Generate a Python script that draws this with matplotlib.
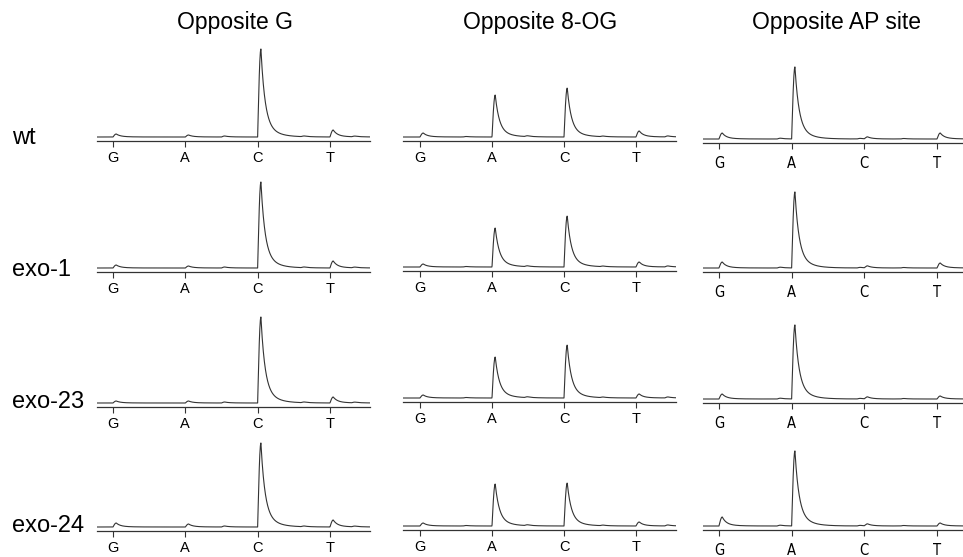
import numpy as np
import matplotlib.pyplot as plt

plt.rcParams['font.family'] = ['Liberation Sans', 'DejaVu Sans']

bases = ["G", "A", "C", "T"]
col_titles = ["Opposite G", "Opposite 8-OG", "Opposite AP site"]
row_labels = ["wt", "exo-1", "exo-23", "exo-24"]

# peak heights (signal above baseline) at the G, A, C, T positions
opp_g = [[3, 2, 88, 7], [3, 2, 86, 7], [2, 2, 86, 6], [4, 3, 84, 7]]
opp_8og = [[4, 42, 49, 6], [3, 39, 51, 5], [3, 41, 53, 4], [3, 42, 43, 4]]
opp_ap = [[6, 72, 2, 6], [6, 76, 2, 5], [5, 74, 2, 3], [9, 75, 2, 3]]
panels = [opp_g, opp_8og, opp_ap]

# small side bumps between base positions: (position, height)
minor = [[(1.5, 1), (2.6, 0.7), (3.3, 0.7)],
         [(0.6, 0.5), (1.45, 0.8), (2.5, 0.6), (3.4, 1)],
         [(0.8, 0.8), (1.9, 0.6), (2.5, 0.5)]]


def trace(x, heights, bumps, base=4.0):
    y = np.full_like(x, base)
    pts = [(i, h) for i, h in enumerate(heights)] + list(bumps)
    for x0, h in pts:
        u = x - x0
        rise = 0.045
        up = (u >= 0) & (u < rise)
        dn = u >= rise
        y[up] += h * np.sin(0.5 * np.pi * u[up] / rise)
        y[dn] += h * (0.8 * np.exp(-(u[dn] - rise) / 0.055) + 0.2 * np.exp(-(u[dn] - rise) / 0.15))
    return y


W, H = 963, 557
fig = plt.figure(figsize=(W / 100, H / 100), dpi=100)

# panel layout in pixels: left edge, right edge, G tick, T tick
cols = [(97, 370, 113, 330), (403, 676, 420, 636), (703, 963, 719, 937)]
bottoms = [[141, 272, 407, 531], [141, 271, 402, 530], [143, 272, 403, 530]]
title_x = [235, 540, 836]
label_y = [138, 270, 402, 526]
ax_h = 100

for c, (L, R, g, t) in enumerate(cols):
    s = (t - g) / 3
    xlim = (-(g - L) / s, 3 + (R - t) / s)
    x = np.linspace(xlim[0], xlim[1], 1500)
    for r in range(4):
        b = bottoms[c][r]
        ax = fig.add_axes([L / W, (H - b) / H, (R - L) / W, ax_h / H])
        ax.plot(x, trace(x, panels[c][r], minor[c]), color='#333333', lw=0.8)
        ax.set_xlim(xlim)
        ax.set_ylim(0, ax_h)
        ax.patch.set_alpha(0)
        for sp in ['top', 'right', 'left']:
            ax.spines[sp].set_visible(False)
        ax.spines['bottom'].set_color('#333333')
        ax.spines['bottom'].set_linewidth(0.9)
        ax.set_yticks([])
        ax.set_xticks(range(4))
        if c == 2:
            ax.set_xticklabels(bases, fontsize=10.5, fontstretch='condensed',
                               family=['DejaVu Sans'])
            ax.tick_params(axis='x', length=4, width=0.8, color='#333333', pad=5.5)
        else:
            ax.set_xticklabels(bases, fontsize=10.5)
            ax.tick_params(axis='x', length=4, width=0.8, color='#333333', pad=3.5)
    fig.text(title_x[c] / W, 1 - 22 / H, col_titles[c], ha='center', va='center', fontsize=16.5)

for r, lab in enumerate(row_labels):
    fig.text(12 / W, 1 - label_y[r] / H, lab, ha='left', va='center', fontsize=17)

fig.savefig('out.png', dpi=100)
